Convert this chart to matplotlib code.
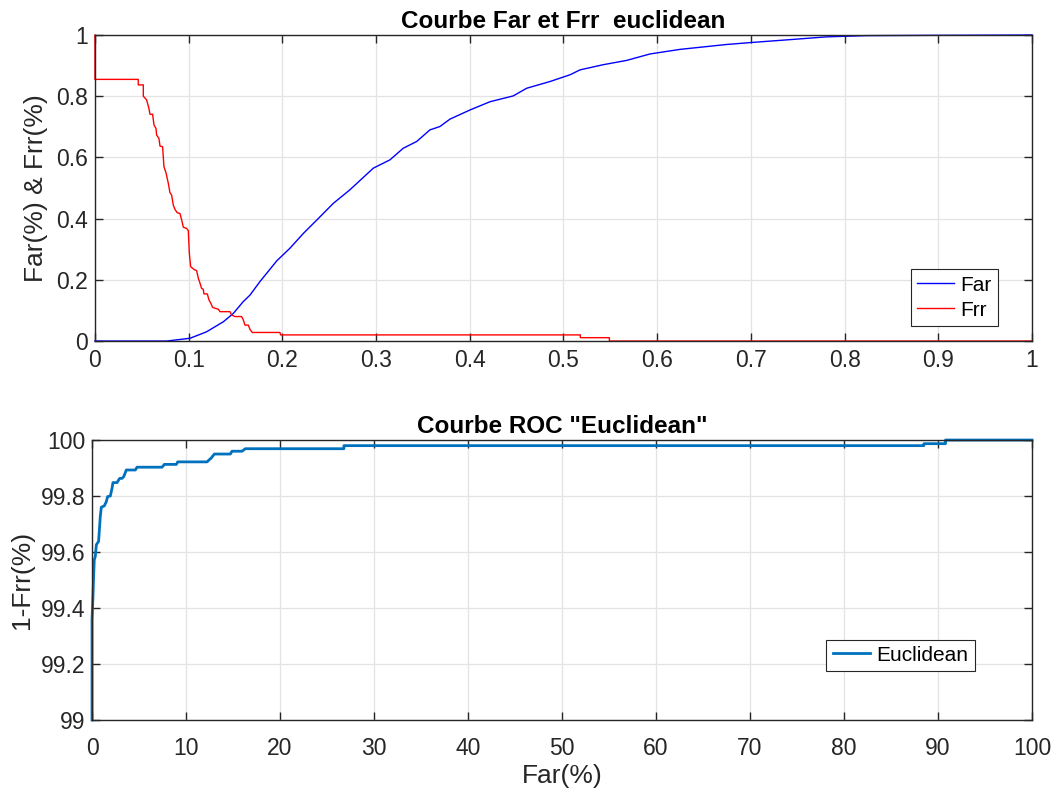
import matplotlib
matplotlib.use("Agg")
import matplotlib.pyplot as plt

plt.rcParams["font.family"] = ["Liberation Sans", "DejaVu Sans"]

# --- Far / Frr vs threshold (top panel) ---
far_thr = [0.0, 0.0765, 0.1014, 0.119, 0.137, 0.1476, 0.158, 0.1654, 0.176, 0.194,
           0.208, 0.2225, 0.2366, 0.2544, 0.272, 0.2971, 0.3148, 0.329, 0.3433,
           0.3575, 0.3682, 0.3788, 0.4002, 0.4216, 0.4464, 0.4607, 0.4856, 0.507,
           0.5176, 0.5425, 0.5674, 0.5923, 0.6243, 0.674, 0.7026, 0.738, 0.781,
           0.8236, 0.895, 1.0]
far_val = [0.0, 0.0, 0.009, 0.030, 0.063, 0.090, 0.128, 0.150, 0.194, 0.262,
           0.303, 0.352, 0.395, 0.450, 0.494, 0.565, 0.592, 0.630, 0.652,
           0.690, 0.701, 0.725, 0.755, 0.782, 0.801, 0.826, 0.848, 0.870,
           0.886, 0.903, 0.917, 0.938, 0.953, 0.969, 0.976, 0.984, 0.994,
           0.998, 0.999, 1.0]

frr_thr = [0.0, 0.0, 0.0462, 0.0462, 0.0516, 0.0516, 0.0551, 0.0576, 0.0587, 0.0615,
           0.063, 0.0651, 0.0658, 0.0683, 0.0694, 0.0722, 0.0736, 0.0758, 0.0783,
           0.080, 0.0818, 0.0836, 0.0854, 0.0879, 0.0907, 0.0925, 0.0943, 0.0978,
           0.0996, 0.1007, 0.1021, 0.1057, 0.1085, 0.1103, 0.1121, 0.1138, 0.1156,
           0.1163, 0.1199, 0.1217, 0.1234, 0.1256, 0.1281, 0.1316, 0.1334, 0.1441,
           0.1459, 0.1494, 0.1565, 0.1583, 0.1601, 0.1637, 0.1654, 0.1679, 0.1974,
           0.1981, 0.518, 0.518, 0.549, 0.549, 1.0]
frr_val = [1.0, 0.855, 0.855, 0.837, 0.837, 0.800, 0.788, 0.760, 0.741, 0.741,
           0.706, 0.695, 0.673, 0.662, 0.637, 0.635, 0.570, 0.550, 0.515,
           0.485, 0.477, 0.444, 0.430, 0.419, 0.417, 0.396, 0.372, 0.368,
           0.361, 0.287, 0.243, 0.234, 0.230, 0.205, 0.189, 0.172, 0.169,
           0.154, 0.154, 0.134, 0.125, 0.110, 0.107, 0.104, 0.096, 0.096,
           0.085, 0.080, 0.080, 0.069, 0.052, 0.052, 0.038, 0.028, 0.028,
           0.020, 0.020, 0.011, 0.011, 0.0, 0.0]

# --- ROC curve (bottom panel) ---
roc_far = [0.0, 0.0, 0.10, 0.17, 0.24, 0.35, 0.46, 0.70, 0.88, 0.99, 1.31, 1.52,
           1.66, 1.95, 2.13, 2.23, 2.66, 2.94, 3.19, 3.37, 3.65, 4.61, 4.79, 7.45,
           7.70, 8.97, 9.12, 12.24, 12.52, 12.66, 13.02, 14.72, 14.89, 15.96,
           16.31, 26.8, 26.8, 88.5, 88.5, 90.8, 90.8, 100.0]
roc_tpr = [99.0, 99.359, 99.44, 99.513, 99.572, 99.584, 99.626, 99.638, 99.727,
           99.760, 99.765, 99.78, 99.798, 99.80, 99.828, 99.848, 99.848, 99.863,
           99.863, 99.869, 99.893, 99.893, 99.903, 99.903, 99.913, 99.913, 99.922,
           99.922, 99.931, 99.935, 99.950, 99.950, 99.960, 99.960, 99.969, 99.969,
           99.980, 99.980, 99.987, 99.987, 100.0, 100.0]

axis_col = "#262626"
grid_col = "#e3e3e3"
fs = 16.5      # tick labels
fs_lab = 19    # axis labels
fs_title = 17.5
fs_leg = 15


def matlab_style(ax):
    ax.grid(True, color=grid_col, linewidth=0.9)
    ax.set_axisbelow(True)
    for s in ax.spines.values():
        s.set_color(axis_col)
        s.set_linewidth(1.0)
    ax.tick_params(direction="in", length=6, width=1.0, top=True, right=True,
                   colors=axis_col, labelsize=fs, pad=5)


fig = plt.figure(figsize=(10.54, 7.92), dpi=100)

ax1 = fig.add_axes([0.0901, 0.5694, 0.889, 0.3864])
ax1.plot(far_thr, far_val, color=(0, 0, 1), linewidth=1.0, label="Far", clip_on=False)
ax1.plot(frr_thr, frr_val, color=(1, 0, 0), linewidth=1.0, label="Frr", clip_on=False)
ax1.set_xlim(0, 1)
ax1.set_ylim(0, 1)
ax1.set_xticks([i / 10 for i in range(11)])
ax1.set_xticklabels(["0", "0.1", "0.2", "0.3", "0.4", "0.5", "0.6", "0.7", "0.8", "0.9", "1"])
ax1.set_yticks([0, 0.2, 0.4, 0.6, 0.8, 1])
ax1.set_yticklabels(["0", "0.2", "0.4", "0.6", "0.8", "1"])
matlab_style(ax1)
ax1.tick_params(axis="x", pad=6)
ax1.set_ylabel("Far(%) & Frr(%)", fontsize=fs_lab, color=axis_col, labelpad=6)
ax1.set_title("Courbe Far et Frr  euclidean", fontsize=fs_title, fontweight="bold", pad=5)
leg1 = ax1.legend(loc="lower right", bbox_to_anchor=(0.964, 0.049), fontsize=fs_leg,
                  fancybox=False, framealpha=1, edgecolor=axis_col, handlelength=1.8,
                  handletextpad=0.3, borderpad=0.3, labelspacing=0.3, borderaxespad=0)
leg1.get_frame().set_linewidth(0.8)

ax2 = fig.add_axes([0.0873, 0.0909, 0.8918, 0.3535])
ax2.plot(roc_far, roc_tpr, color="#0072BD", linewidth=2.0, label="Euclidean", clip_on=False)
ax2.set_xlim(0, 100)
ax2.set_ylim(99, 100)
ax2.set_xticks(range(0, 101, 10))
ax2.set_yticks([99, 99.2, 99.4, 99.6, 99.8, 100])
ax2.set_yticklabels(["99", "99.2", "99.4", "99.6", "99.8", "100"])
matlab_style(ax2)
ax2.tick_params(axis="x", pad=12)
ax2.set_xlabel("Far(%)", fontsize=fs_lab, color=axis_col, labelpad=3)
ax2.set_ylabel("1-Frr(%)", fontsize=fs_lab, color=axis_col, labelpad=5)
ax2.set_title('Courbe ROC "Euclidean"', fontsize=fs_title, fontweight="bold", pad=5)
leg2 = ax2.legend(loc="lower right", bbox_to_anchor=(0.939, 0.175), fontsize=fs_leg,
                  fancybox=False, framealpha=1, edgecolor=axis_col, handlelength=1.8,
                  handletextpad=0.3, borderpad=0.3, borderaxespad=0)
leg2.get_frame().set_linewidth(0.8)

fig.savefig("out.png", dpi=100)
